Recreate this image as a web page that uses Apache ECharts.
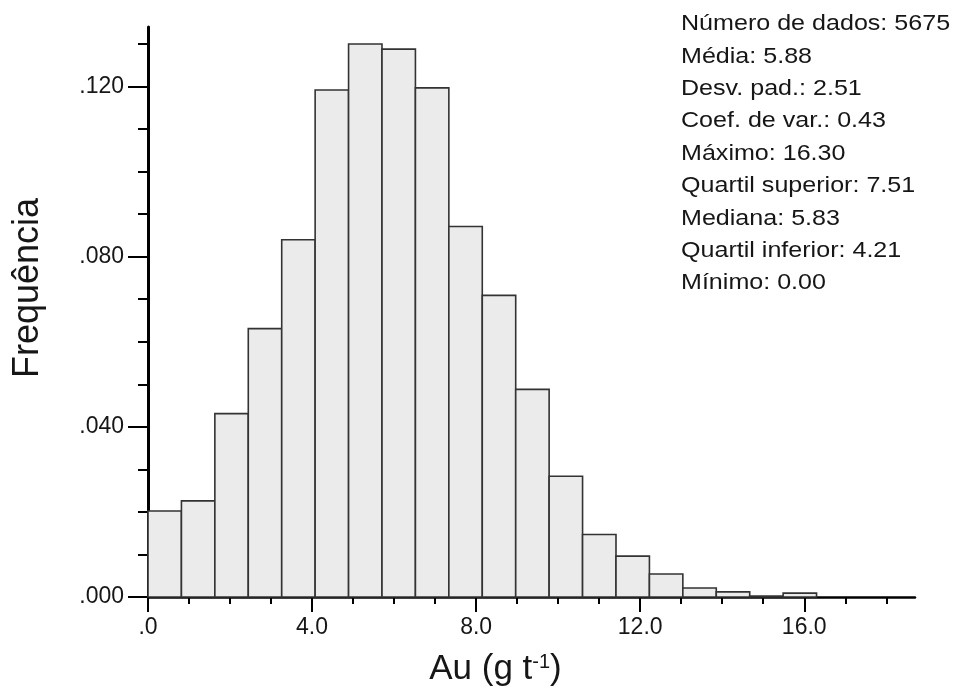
<!DOCTYPE html>
<html><head><meta charset="utf-8">
<script src="https://cdn.jsdelivr.net/npm/echarts@6/dist/echarts.min.js"></script>
<style>html,body{margin:0;padding:0;background:#fff}#c{width:960px;height:691px}</style>
</head><body><div id="c"></div>
<script>
// Histogram bins (g/t)
const binStart = [0, 0.815, 1.63, 2.445, 3.26, 4.075, 4.89, 5.705, 6.52, 7.335, 8.15, 8.965, 9.78, 10.595, 11.41, 12.225, 13.04, 13.855, 14.67, 15.485];
const binEnd   = [0.815, 1.63, 2.445, 3.26, 4.075, 4.89, 5.705, 6.52, 7.335, 8.15, 8.965, 9.78, 10.595, 11.41, 12.225, 13.04, 13.855, 14.67, 15.485, 16.3];
const frequency = [0.0202, 0.0226, 0.0431, 0.0631, 0.0840, 0.1192, 0.1300, 0.1288, 0.1197, 0.0871, 0.0709, 0.0488, 0.0284, 0.0147, 0.0096, 0.0054, 0.0021, 0.0012, 0.0002, 0.0009];

const xMajorTicks = [0, 4, 8, 12, 16];
const xMinorTicks = [1, 2, 3, 5, 6, 7, 9, 10, 11, 13, 14, 15, 17, 18];
const yMajorTicks = [0, 0.04, 0.08, 0.12];
const yMinorTicks = [0.01, 0.02, 0.03, 0.05, 0.06, 0.07, 0.09, 0.10, 0.11, 0.13];

const statLines = [
  'Número de dados: 5675',
  'Média: 5.88',
  'Desv. pad.: 2.51',
  'Coef. de var.: 0.43',
  'Máximo: 16.30',
  'Quartil superior: 7.51',
  'Mediana: 5.83',
  'Quartil inferior: 4.21',
  'Mínimo: 0.00'
];

const FONT = '"Liberation Sans", Arial, Helvetica, sans-serif';
const TXT = '#161616';
const X_MAX = 18.7, Y_MAX = 0.134;

const histData = binStart.map((s, i) => [s, binEnd[i], frequency[i]]);

const fmtX = v => { const s = v.toFixed(1); return s.startsWith('0.') ? s.slice(1) : s; };
const fmtY = v => { const s = v.toFixed(3); return s.startsWith('0.') ? s.slice(1) : s; };

const chart = echarts.init(document.getElementById('c'), null, {renderer: 'canvas'});
chart.setOption({
  animation: false,
  backgroundColor: '#fff',
  grid: {left: 148, right: 45, top: 27, bottom: 94, containLabel: false, outerBoundsMode: 'none'},
  xAxis: [
    {
      type: 'value', min: 0, max: X_MAX, position: 'bottom',
      splitLine: {show: false},
      axisLine: {show: true, onZero: false, lineStyle: {color: '#000', width: 2.5}},
      axisTick: {show: true, customValues: xMajorTicks, length: 15, lineStyle: {color: '#000', width: 2}},
      axisLabel: {customValues: xMajorTicks, formatter: fmtX, fontSize: 23, margin: 19, color: TXT, fontFamily: FONT},
      name: '{a|Au (g t}{s|-1}{a|)}',
      nameLocation: 'middle', nameGap: 55,
      nameTextStyle: {
        color: TXT, fontFamily: FONT, fontSize: 35, padding: [0, 72, 0, 0],
        rich: {
          a: {fontSize: 35, fontFamily: FONT, color: TXT},
          s: {fontSize: 20, fontFamily: FONT, color: TXT, verticalAlign: 'top'}
        }
      }
    },
    {
      type: 'value', min: 0, max: X_MAX, position: 'bottom',
      splitLine: {show: false},
      axisLine: {show: false, onZero: false},
      axisTick: {show: true, customValues: xMinorTicks, length: 7, lineStyle: {color: '#000', width: 2}},
      axisLabel: {show: false}
    }
  ],
  yAxis: [
    {
      type: 'value', min: 0, max: Y_MAX, position: 'left',
      splitLine: {show: false},
      axisLine: {show: true, onZero: false, lineStyle: {color: '#000', width: 3}},
      axisTick: {show: true, customValues: yMajorTicks, length: 20, lineStyle: {color: '#000', width: 2}},
      axisLabel: {customValues: yMajorTicks, formatter: fmtY, fontSize: 23, margin: 24, color: TXT, fontFamily: FONT,
                  verticalAlign: 'middle', padding: [0, 0, 14, 0]},
      name: 'Frequência',
      nameLocation: 'middle', nameGap: 102,
      nameTextStyle: {color: TXT, fontFamily: FONT, fontSize: 36, padding: [0, 0, 0, 48]}
    },
    {
      type: 'value', min: 0, max: Y_MAX, position: 'left',
      splitLine: {show: false},
      axisLine: {show: false, onZero: false},
      axisTick: {show: true, customValues: yMinorTicks, length: 10, lineStyle: {color: '#000', width: 2}},
      axisLabel: {show: false}
    }
  ],
  series: [{
    type: 'custom',
    xAxisIndex: 0, yAxisIndex: 0,
    data: histData,
    encode: {x: [0, 1], y: 2},
    renderItem: function (params, api) {
      const p0 = api.coord([api.value(0), api.value(2)]);
      const p1 = api.coord([api.value(1), 0]);
      return {
        type: 'rect',
        shape: {x: p0[0], y: p0[1], width: p1[0] - p0[0], height: p1[1] - p0[1]},
        style: {fill: '#ebebeb', stroke: '#333', lineWidth: 1.6}
      };
    }
  }],
  graphic: [{
    type: 'text', x: 681, y: 8, scaleX: 1.14,
    style: {
      text: statLines.join('\n'),
      fontSize: 22, fontFamily: FONT, lineHeight: 32.4,
      fill: TXT, verticalAlign: 'top', align: 'left'
    }
  }]
});
</script>
</body></html>
